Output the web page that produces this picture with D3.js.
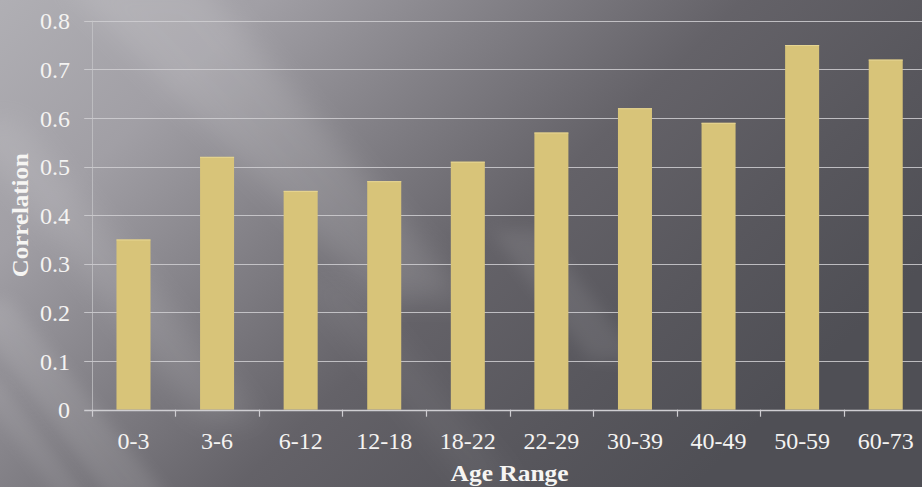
<!DOCTYPE html>
<html>
<head>
<meta charset="utf-8">
<script src="https://cdn.jsdelivr.net/npm/d3@7"></script>
<style>
  html, body { margin: 0; padding: 0; background: #6a696e; overflow: hidden; }
  svg { display: block; }
</style>
</head>
<body>
<svg id="chart" width="922" height="487"></svg>
<script>
const categories = ["0-3", "3-6", "6-12", "12-18", "18-22", "22-29", "30-39", "40-49", "50-59", "60-73"];
const correlations = [0.35, 0.52, 0.45, 0.47, 0.51, 0.57, 0.62, 0.59, 0.75, 0.72];
const yTickValues = [0, 0.1, 0.2, 0.3, 0.4, 0.5, 0.6, 0.7, 0.8];
const yTickLabels = ["0", "0.1", "0.2", "0.3", "0.4", "0.5", "0.6", "0.7", "0.8"];
const xAxisTitle = "Age Range";
const yAxisTitle = "Correlation";

const W = 922, H = 487;
const plot = { left: 91.7, right: 927.5, top: 20.7, bottom: 409.7 };
const FONT = "'Liberation Serif', 'Times New Roman', serif";

const svg = d3.select("#chart");
const defs = svg.append("defs");

// background gradient
const bg = defs.append("linearGradient").attr("id", "bg")
  .attr("x1", "0").attr("y1", "0").attr("x2", "1").attr("y2", "0.55");
[[0, "#b0afb4"], [0.22, "#a19fa5"], [0.42, "#828086"], [0.62, "#646268"], [0.82, "#58575d"], [1, "#4f4f55"]]
  .forEach(([o, c]) => bg.append("stop").attr("offset", o).attr("stop-color", c));

const blur = defs.append("filter").attr("id", "blur").attr("x", "-50%").attr("y", "-50%").attr("width", "200%").attr("height", "200%");
blur.append("feGaussianBlur").attr("stdDeviation", 14);
const blur2 = defs.append("filter").attr("id", "blur2").attr("x", "-50%").attr("y", "-50%").attr("width", "200%").attr("height", "200%");
blur2.append("feGaussianBlur").attr("stdDeviation", 8);

svg.append("rect").attr("width", W).attr("height", H).attr("fill", "url(#bg)");

// diagonal light streaks
const streaks = svg.append("g");
const streakData = [
  { pts: [[60, -20], [200, -20], [470, 300], [380, 300]], o: 0.12, f: "url(#blur)" },
  { pts: [[-40, 120], [20, 120], [260, 420], [200, 420]], o: 0.10, f: "url(#blur)" },
  { pts: [[-40, 300], [10, 300], [170, 500], [110, 500]], o: 0.10, f: "url(#blur2)" },
  { pts: [[490, 230], [540, 230], [640, 360], [590, 360]], o: 0.08, f: "url(#blur2)" },
  { pts: [[-30, 380], [0, 380], [90, 500], [60, 500]], o: 0.08, f: "url(#blur2)" },
  { pts: [[300, 280], [350, 280], [520, 487], [470, 487]], o: 0.05, f: "url(#blur)" }
];
streaks.selectAll("polygon").data(streakData).join("polygon")
  .attr("points", d => d.pts.map(p => p.join(",")).join(" "))
  .attr("fill", "#ffffff").attr("opacity", d => d.o).attr("filter", d => d.f);

const x = d3.scaleBand().domain(categories).range([plot.left, plot.right])
  .paddingInner(0.593).paddingOuter(0.2965);
const y = d3.scaleLinear().domain([0, 0.8]).range([plot.bottom, plot.top]);

// gridlines
svg.append("g").selectAll("line").data(yTickValues.filter(v => v > 0)).join("line")
  .attr("x1", plot.left - 7.5).attr("x2", W + 10)
  .attr("y1", d => Math.round(y(d)) + 0.5).attr("y2", d => Math.round(y(d)) + 0.5)
  .attr("stroke", "#d0cfd2").attr("stroke-opacity", 0.85).attr("stroke-width", 1.2);

// y axis vertical line
svg.append("line")
  .attr("x1", Math.round(plot.left) + 0.5).attr("x2", Math.round(plot.left) + 0.5)
  .attr("y1", y(0.8)).attr("y2", y(0) + 1)
  .attr("stroke", "#c8c7cb").attr("stroke-opacity", 0.7).attr("stroke-width", 1);

// bars
svg.append("g").selectAll("rect").data(categories).join("rect")
  .attr("x", d => x(d)).attr("width", x.bandwidth())
  .attr("y", (d, i) => y(correlations[i])).attr("height", (d, i) => y(0) - y(correlations[i]))
  .attr("fill", "#d8c479");
svg.append("g").selectAll("line").data(categories).join("line")
  .attr("x1", d => x(d)).attr("x2", d => x(d) + x.bandwidth())
  .attr("y1", (d, i) => y(correlations[i]) + 0.5).attr("y2", (d, i) => y(correlations[i]) + 0.5)
  .attr("stroke", "#e6d592").attr("stroke-width", 1);

// x axis baseline
svg.append("line")
  .attr("x1", plot.left - 7.5).attr("x2", W + 10)
  .attr("y1", Math.round(y(0)) + 0.5).attr("y2", Math.round(y(0)) + 0.5)
  .attr("stroke", "#cfced2").attr("stroke-width", 1.4);

// x ticks at band boundaries
const boundaries = d3.range(categories.length + 1).map(i => plot.left + i * x.step());
svg.append("g").selectAll("line").data(boundaries).join("line")
  .attr("x1", d => Math.round(d) + 0.5).attr("x2", d => Math.round(d) + 0.5)
  .attr("y1", y(0)).attr("y2", y(0) + 7)
  .attr("stroke", "#cfced2").attr("stroke-width", 1.2);

// y tick labels
svg.append("g").selectAll("text").data(yTickValues).join("text")
  .attr("x", 70).attr("y", d => y(d)).attr("dy", "0.36em")
  .attr("text-anchor", "end")
  .attr("font-family", FONT).attr("font-size", 24).attr("fill", "#f4f3f2")
  .text((d, i) => yTickLabels[i]);

// x tick labels
svg.append("g").selectAll("text").data(categories).join("text")
  .attr("x", d => x(d) + x.bandwidth() / 2).attr("y", 449)
  .attr("text-anchor", "middle")
  .attr("font-family", FONT).attr("font-size", 24).attr("fill", "#f4f3f2")
  .text(d => d);

// axis titles
svg.append("text")
  .attr("x", (plot.left + plot.right) / 2).attr("y", 481)
  .attr("text-anchor", "middle")
  .attr("font-family", FONT).attr("font-weight", "bold").attr("font-size", 23.5)
  .attr("textLength", 118).attr("lengthAdjust", "spacingAndGlyphs")
  .attr("fill", "#f6f5f3").text(xAxisTitle);

svg.append("text")
  .attr("transform", `translate(28,${(plot.top + plot.bottom) / 2}) rotate(-90)`)
  .attr("text-anchor", "middle")
  .attr("font-family", FONT).attr("font-weight", "bold").attr("font-size", 23.5)
  .attr("textLength", 124).attr("lengthAdjust", "spacingAndGlyphs")
  .attr("fill", "#f6f5f3").text(yAxisTitle);
</script>
</body>
</html>
